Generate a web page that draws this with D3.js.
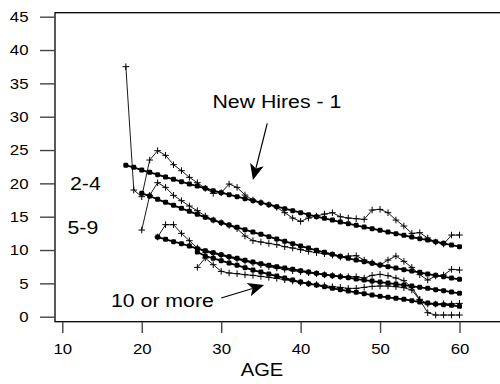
<!DOCTYPE html>
<html>
<head>
<meta charset="utf-8">
<script src="https://cdn.jsdelivr.net/npm/d3@7"></script>
<style>
  html, body { margin: 0; padding: 0; background: #fff; overflow: hidden; }
  text { font-family: "Liberation Sans", Arial, Helvetica, sans-serif; fill: #000; }
</style>
</head>
<body>
<svg id="chart" width="500" height="384"></svg>
<script>
// Tick values
const xTicks = [10, 20, 30, 40, 50, 60];
const yTicks = [0, 5, 10, 15, 20, 25, 30, 35, 40, 45];

// First age of each series (one value per year of age up to 60)
const newHiresStart = 18;
const twoFourStart = 20;
const fiveNineStart = 22;
const tenPlusStart = 27;

// New Hires - 1: observed rates and fitted curve
const newHiresRaw = [37.5, 19.0, 18.0, 23.5, 24.9, 24.2, 22.8, 21.9, 20.9, 20.1,
  19.25, 18.5, 18.6, 19.9, 19.4, 18.25, 17.5, 17.1, 16.8, 16.4,
  15.6, 14.8, 14.3, 14.8, 15.1, 15.4, 15.6, 15.0, 14.8, 14.7,
  14.6, 16.0, 16.1, 15.6, 14.5, 13.6, 12.5, 12.6, 11.8, 11.2,
  10.9, 12.25, 12.25];
const newHiresFit = [22.7, 22.4, 22.0, 21.65, 21.3, 20.95, 20.6, 20.25, 19.9, 19.6,
  19.25, 18.9, 18.6, 18.3, 18.0, 17.7, 17.4, 17.1, 16.8, 16.5,
  16.2, 15.9, 15.6, 15.3, 15.0, 14.75, 14.5, 14.2, 13.95, 13.7,
  13.45, 13.2, 12.95, 12.7, 12.45, 12.2, 11.95, 11.7, 11.5, 11.25,
  11.0, 10.75, 10.5];

// 2-4
const twoFourRaw = [13.0, 18.2, 20.1, 19.4, 18.2, 17.4, 16.6, 15.9, 15.1, 14.5,
  14.1, 13.7, 13.2, 12.1, 11.4, 11.2, 11.0, 10.8, 10.5, 10.3,
  10.05, 9.8, 9.6, 9.45, 9.25, 8.95, 9.1, 9.15, 8.5, 8.1,
  7.75, 8.5, 9.1, 8.3, 7.4, 6.3, 5.5, 6.1, 6.25, 7.1, 7.0];
const twoFourFit = [18.5, 18.1, 17.6, 17.15, 16.7, 16.25, 15.8, 15.35, 14.9, 14.5,
  14.1, 13.75, 13.4, 13.05, 12.7, 12.35, 12.0, 11.65, 11.3, 10.95,
  10.6, 10.3, 9.95, 9.65, 9.35, 9.05, 8.75, 8.5, 8.25, 8.0,
  7.75, 7.5, 7.3, 7.05, 6.85, 6.65, 6.4, 6.2, 6.0, 5.8, 5.6];

// 5-9
const fiveNineRaw = [11.95, 13.8, 13.8, 12.5, 11.4, 10.3, 9.7, 9.5, 9.2, 8.9,
  8.6, 8.3, 8.05, 7.8, 7.5, 7.3, 7.1, 6.9, 6.75, 6.6,
  6.45, 6.3, 6.15, 6.05, 6.0, 6.0, 5.8, 6.2, 6.35, 6.15,
  5.8, 5.4, 4.4, 2.6, 1.9, 1.9, 1.95, 1.9, 2.0];
const fiveNineFit = [11.95, 11.6, 11.25, 10.95, 10.6, 10.2, 9.9, 9.6, 9.3, 9.0,
  8.75, 8.45, 8.2, 7.95, 7.7, 7.5, 7.3, 7.1, 6.9, 6.7,
  6.5, 6.3, 6.15, 6.0, 5.85, 5.65, 5.5, 5.35, 5.2, 5.05,
  4.9, 4.75, 4.6, 4.4, 4.25, 4.05, 3.9, 3.7, 3.5];

// 10 or more
const tenPlusRaw = [7.4, 8.8, 7.8, 6.8, 6.55, 6.45, 6.3, 6.2, 6.05, 5.9,
  5.75, 5.55, 5.35, 5.1, 4.95, 4.8, 4.65, 4.5, 4.4, 4.25,
  4.25, 4.4, 4.55, 4.6, 4.6, 4.5, 4.35, 4.0, 2.5, 0.6,
  0.25, 0.25, 0.25, 0.25];
const tenPlusFit = [9.7, 9.1, 8.75, 8.4, 8.05, 7.7, 7.35, 7.0, 6.7, 6.4,
  6.1, 5.8, 5.5, 5.2, 4.95, 4.75, 4.5, 4.25, 4.05, 3.85,
  3.65, 3.45, 3.25, 3.05, 2.9, 2.75, 2.6, 2.4, 2.2, 2.05,
  1.9, 1.8, 1.7, 1.55];

const series = [
  { start: newHiresStart, raw: newHiresRaw, fit: newHiresFit },
  { start: twoFourStart, raw: twoFourRaw, fit: twoFourFit },
  { start: fiveNineStart, raw: fiveNineRaw, fit: fiveNineFit },
  { start: tenPlusStart, raw: tenPlusRaw, fit: tenPlusFit }
];

const svg = d3.select("#chart");
const x = d3.scaleLinear().domain([10, 60]).range([62.3, 459.5]);
const y = d3.scaleLinear().domain([0, 45]).range([316.7, 16.7]);
const STRETCH = 1.12;

// Plot frame (runs off the right edge)
svg.append("rect")
  .attr("x", 55).attr("y", 12.7)
  .attr("width", 470).attr("height", 309)
  .attr("fill", "none").attr("stroke", "#000").attr("stroke-width", 1.3);

// Y axis
const yAxis = svg.append("g").attr("transform", "translate(55,0)")
  .call(d3.axisLeft(y).tickValues(yTicks).tickSize(15).tickPadding(11.5));
yAxis.select(".domain").remove();
yAxis.selectAll(".tick line").attr("stroke", "#444").attr("stroke-width", 1.4);
yAxis.selectAll(".tick text")
  .attr("font-size", 15).attr("font-family", null)
  .each(function () {
    const t = d3.select(this);
    const tx = +t.attr("x");
    t.attr("x", 0).attr("transform", `translate(${tx},0) scale(${STRETCH},1)`);
  });

// X axis
const xAxis = svg.append("g").attr("transform", "translate(0,321.7)")
  .call(d3.axisBottom(x).tickValues(xTicks).tickSize(11.3).tickPadding(10.5));
xAxis.select(".domain").remove();
xAxis.selectAll(".tick line").attr("stroke", "#444").attr("stroke-width", 1.4);
xAxis.selectAll(".tick text")
  .attr("font-size", 15).attr("font-family", null)
  .each(function () {
    const t = d3.select(this);
    const ty = +t.attr("y");
    t.attr("y", 0).attr("transform", `translate(0,${ty}) scale(${STRETCH},1)`);
  });

// Stretched text helper
function label(txt, px, py, size, anchor) {
  svg.append("text")
    .attr("transform", `translate(${px},${py}) scale(${STRETCH},1)`)
    .attr("font-size", size)
    .attr("text-anchor", anchor || "start")
    .text(txt);
}
label("AGE", 262, 376, 18, "middle");

const line = d3.line().x(d => x(d.age)).y(d => y(d.v));
const toPoints = (start, vals) => vals.map((v, i) => ({ age: start + i, v }));

const plot = svg.append("g");

series.forEach(s => {
  const fitPts = toPoints(s.start, s.fit);
  const rawPts = toPoints(s.start, s.raw);

  // fitted curve: heavy line with filled markers
  plot.append("path").datum(fitPts)
    .attr("d", line).attr("fill", "none")
    .attr("stroke", "#000").attr("stroke-width", 1.8);
  plot.selectAll(null).data(fitPts).enter().append("rect")
    .attr("x", d => x(d.age) - 2.5).attr("y", d => y(d.v) - 2.5)
    .attr("width", 5).attr("height", 5).attr("rx", 1.4)
    .attr("fill", "#000");

  // observed rates: thin line with plus markers
  plot.append("path").datum(rawPts)
    .attr("d", line).attr("fill", "none")
    .attr("stroke", "#000").attr("stroke-width", 0.9);
  plot.selectAll(null).data(rawPts).enter().append("path")
    .attr("d", d => {
      const cx = x(d.age), cy = y(d.v), h = 3.3;
      return `M${cx - h},${cy}H${cx + h}M${cx},${cy - h}V${cy + h}`;
    })
    .attr("stroke", "#000").attr("stroke-width", 1);
});

// Series labels
label("New Hires - 1", 212.5, 108.3, 19);
label("2-4", 70, 190, 19);
label("5-9", 67.5, 234, 19);
label("10 or more", 111, 306.7, 19);

// Pointer arrows, given in data units
function arrow(fromAge, fromV, toAge, toV) {
  const x0 = x(fromAge), y0 = y(fromV), x1 = x(toAge), y1 = y(toV);
  const dx = x1 - x0, dy = y1 - y0, len = Math.hypot(dx, dy);
  const ux = dx / len, uy = dy / len, nx = -uy, ny = ux;
  const L = 16, W = 7, notch = 4;
  const bx = x1 - L * ux, by = y1 - L * uy;
  svg.append("line")
    .attr("x1", x0).attr("y1", y0)
    .attr("x2", x1 - (L - notch) * ux).attr("y2", y1 - (L - notch) * uy)
    .attr("stroke", "#000").attr("stroke-width", 1.2);
  svg.append("path")
    .attr("d", `M${x1},${y1}L${bx + W * nx},${by + W * ny}L${x1 - (L - notch) * ux},${y1 - (L - notch) * uy}L${bx - W * nx},${by - W * ny}Z`)
    .attr("fill", "#000");
}
arrow(35.8, 29.0, 34.0, 20.5);
arrow(30.0, 2.8, 35.4, 4.75);
</script>
</body>
</html>
